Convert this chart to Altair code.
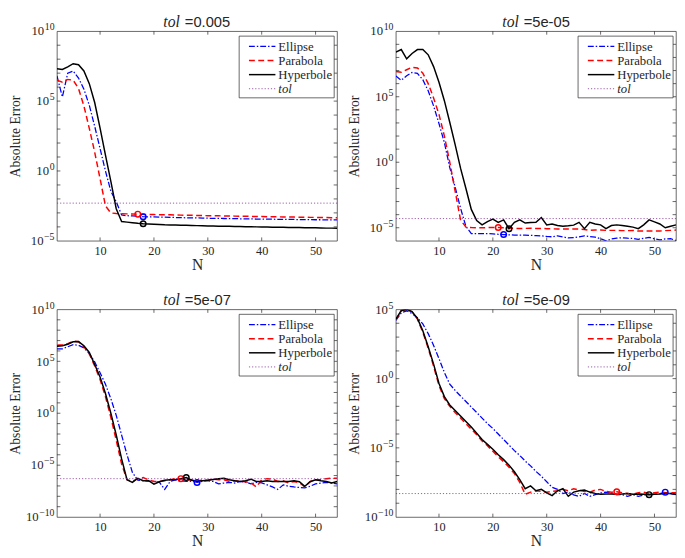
import altair as alt
import pandas as pd

# ---------------- data (log10 of absolute error) -------------
N = list(range(2, 55))
SERIES = ["Ellipse", "Parabola", "Hyperbole", "tol"]
COLORS = ["#0000ff", "#ff0000", "#000000", "#7e2f8e"]

TOLS = [0.005, 5e-05, 5e-07, 5e-09]
TOL_TEXT = ["=0.005", "=5e-05", "=5e-07", "=5e-09"]
Y_RANGE = [(-5, 10), (-6, 10), (-10, 10), (-10, 5)]
Y_LABELS = [[10, 5, 0, -5], [10, 5, 0, -5], [10, 5, 0, -5, -10], [5, 0, -5, -10]]
X_TICKS = [10, 20, 30, 40, 50]

P1_E = [6.8, 5.3, 7.0, 7.15, 6.65, 5.85, 4.7, 3.2, 1.6, 0.0,
        -1.45, -2.2, -3.15, -3.2, -3.22, -3.24, -3.27, -3.28, -3.29, -3.3,
        -3.31, -3.32, -3.33, -3.34, -3.35, -3.35, -3.36, -3.37, -3.38, -3.39,
        -3.39, -3.4, -3.41, -3.41, -3.42, -3.43, -3.43, -3.44, -3.44, -3.45,
        -3.45, -3.46, -3.46, -3.47, -3.47, -3.48, -3.48, -3.48, -3.49, -3.49,
        -3.5, -3.5, -3.5]
P1_P = [6.5, 6.35, 6.55, 6.5, 5.9, 4.65, 3.05, 1.35, -0.55, -2.5,
        -3.0, -3.05, -3.06, -3.07, -3.08, -3.09, -3.1, -3.11, -3.12, -3.13,
        -3.14, -3.14, -3.15, -3.16, -3.17, -3.17, -3.18, -3.19, -3.2, -3.2,
        -3.21, -3.22, -3.22, -3.23, -3.24, -3.24, -3.25, -3.26, -3.26, -3.27,
        -3.28, -3.28, -3.29, -3.3, -3.3, -3.31, -3.31, -3.32, -3.32, -3.33,
        -3.33, -3.34, -3.34]
P1_H = [7.32, 7.27, 7.45, 7.68, 7.6, 7.16, 6.25, 4.9, 3.07, 1.14,
        -0.75, -2.7, -3.62, -3.66, -3.7, -3.74, -3.77, -3.79, -3.81, -3.83,
        -3.85, -3.86, -3.87, -3.88, -3.89, -3.9, -3.91, -3.92, -3.93, -3.94,
        -3.95, -3.96, -3.96, -3.97, -3.98, -3.99, -3.99, -4.0, -4.01, -4.01,
        -4.02, -4.03, -4.03, -4.04, -4.05, -4.05, -4.06, -4.07, -4.07, -4.08,
        -4.09, -4.09, -4.1]

P2_E = [6.58, 6.26, 6.6, 6.85, 6.78, 6.3, 5.45, 4.3, 2.95, 1.5,
        -0.4, -1.9, -3.5, -4.9, -5.44, -5.44, -5.45, -5.45, -5.47, -5.5,
        -5.52, -5.54, -5.56, -5.57, -5.56, -5.58, -5.6, -5.62, -5.66, -5.69,
        -5.62, -5.7, -5.78, -5.76, -5.7, -5.62, -5.68, -5.72, -5.84, -6.0,
        -5.86, -5.8, -5.76, -5.8, -5.82, -5.88, -5.8, -5.74, -5.85, -5.93,
        -5.85, -5.83, -5.98]
P2_P = [6.92, 6.87, 7.06, 7.25, 7.2, 6.8, 6.0, 4.9, 3.65, 2.0,
        0.0, -2.2, -4.4, -4.95, -4.98, -5.0, -5.0, -4.99, -4.98, -4.98,
        -5.0, -5.02, -5.05, -5.05, -5.05, -5.04, -5.06, -5.05, -5.07, -5.08,
        -5.1, -5.1, -5.1, -5.1, -5.1, -5.13, -5.2, -5.18, -5.18, -5.2,
        -5.2, -5.2, -5.22, -5.22, -5.2, -5.25, -5.25, -5.25, -5.25, -5.25,
        -5.22, -5.2, -5.18]
P2_H = [8.4, 8.6, 7.9, 8.3, 8.6, 8.6, 8.2, 7.3, 6.1, 4.7,
        3.05, 1.35, -0.45, -2.0, -3.6, -4.45, -4.78, -4.53, -4.34, -4.59,
        -4.4, -5.07, -4.59, -4.4, -4.64, -4.6, -4.59, -4.22, -4.78, -4.71,
        -4.83, -4.88, -4.85, -4.8, -4.59, -5.07, -4.59, -4.71, -4.78, -5.07,
        -4.83, -4.78, -4.83, -4.88, -4.95, -5.07, -4.78, -4.4, -4.55, -4.71,
        -5.0, -4.88, -4.78]

P3_E = [6.2, 6.2, 6.4, 6.6, 6.55, 6.3, 5.75, 4.95, 3.9, 2.8,
        1.4, -0.2, -2.1, -4.0, -5.7, -6.45, -6.5, -6.54, -6.57, -6.63,
        -7.34, -6.57, -6.41, -6.5, -6.57, -6.54, -6.66, -6.57, -6.5, -6.57,
        -6.8, -6.72, -6.66, -6.72, -6.57, -6.63, -6.8, -6.66, -6.7, -6.9,
        -7.1, -7.34, -6.9, -7.03, -7.1, -7.15, -7.19, -7.03, -6.8, -6.72,
        -6.66, -6.72, -6.8]
P3_P = [6.55, 6.6, 6.7, 6.95, 6.88, 6.4, 5.7, 4.55, 3.25, 1.6,
        -0.4, -2.6, -4.9, -6.4, -6.57, -6.3, -6.2, -6.41, -6.57, -6.57,
        -6.5, -6.41, -6.3, -6.3, -6.45, -6.41, -6.57, -6.41, -6.45, -6.35,
        -6.41, -6.41, -6.57, -6.5, -6.57, -6.6, -6.7, -7.1, -6.41, -6.3,
        -6.35, -6.57, -6.5, -6.72, -6.57, -6.7, -7.1, -6.57, -6.41, -6.41,
        -6.3, -6.26, -6.26]
P3_H = [6.45, 6.5, 6.65, 6.88, 6.9, 6.5, 5.85, 4.7, 3.5, 1.9,
        0.0, -2.1, -4.4, -6.41, -6.66, -6.26, -6.5, -6.5, -6.82, -6.6,
        -6.45, -6.4, -6.38, -6.3, -6.2, -6.45, -6.55, -6.5, -6.45, -6.38,
        -6.3, -6.26, -6.41, -6.5, -6.57, -6.5, -6.35, -6.57, -6.57, -6.5,
        -6.57, -6.57, -6.57, -6.57, -6.5, -6.6, -7.03, -6.6, -6.41, -6.5,
        -6.57, -6.72, -6.57]

P4_E = [4.2, 4.75, 4.9, 4.7, 4.4, 3.95, 3.25, 2.4, 1.45, 0.45,
        -0.4, -0.85, -1.25, -1.65, -2.05, -2.45, -2.85, -3.25, -3.6, -4.0,
        -4.4, -4.8, -5.2, -5.55, -5.95, -6.3, -6.7, -7.05, -7.45, -7.85,
        -8.0, -8.3, -8.2, -8.4, -8.5, -8.3, -8.5, -8.38, -8.26, -8.2,
        -8.25, -8.38, -8.38, -8.5, -8.38, -8.5, -8.4, -8.38, -8.35, -8.3,
        -8.2, -8.3, -8.38]
P4_P = [4.25, 4.9, 5.0, 4.82, 4.3, 3.35, 2.2, 0.9, -0.5, -1.45,
        -2.0, -2.45, -2.85, -3.25, -3.65, -4.05, -4.5, -4.85, -5.25, -5.65,
        -6.0, -6.4, -6.85, -7.5, -8.35, -8.2, -8.1, -8.15, -8.2, -8.15,
        -8.1, -8.0, -8.1, -7.95, -8.05, -8.15, -8.2, -8.05, -8.0, -8.15,
        -8.2, -8.17, -8.25, -8.3, -8.35, -8.25, -8.2, -8.3, -8.25, -8.2,
        -8.25, -8.25, -8.25]
P4_H = [4.3, 4.92, 5.0, 4.85, 4.35, 3.45, 2.3, 1.05, -0.35, -1.3,
        -1.9, -2.3, -2.7, -3.1, -3.5, -3.95, -4.4, -4.75, -5.1, -5.5,
        -5.85, -6.25, -6.73, -7.3, -7.95, -7.75, -8.1, -8.0, -8.26, -8.45,
        -8.1, -7.95, -8.5, -8.2, -8.1, -8.05, -8.2, -8.3, -8.35, -8.33,
        -8.33, -8.35, -8.33, -8.3, -8.35, -8.33, -8.35, -8.38, -8.35, -8.33,
        -8.3, -8.3, -8.35]

# N at which each method's circle marker sits (Ellipse, Parabola, Hyperbole)
MARK_N = [(18, 17, 18), (22, 21, 23), (28, 25, 26), (52, 43, 49)]

CURVES = [(P1_E, P1_P, P1_H), (P2_E, P2_P, P2_H), (P3_E, P3_P, P3_H), (P4_E, P4_P, P4_H)]

# ---------------- styling -------------
W = 286
HEIGHTS = [214, 214, 212, 212]
SERIF = "Liberation Serif"
SANS = "Liberation Sans"
INK = "#262626"
DASHES = [[6, 2, 1.5, 2], [6, 3.5], None, [1.2, 2]]
WIDTHS = [1.3, 1.5, 1.5, 0.8]


def one():
    return alt.Data(values=[{"a": 1}])


def kw_line(i):
    d = dict(color=COLORS[i], strokeWidth=WIDTHS[i])
    if DASHES[i] is not None:
        d["strokeDash"] = DASHES[i]
    return d


def exp_text(k):
    return str(k).replace("-", "\u2212")


def exp_width(k):
    s = exp_text(k)
    return sum(5.6 if ch == "\u2212" else 5.0 for ch in s)


def panel(idx):
    Hh = HEIGHTS[idx]
    lo, hi = Y_RANGE[idx]
    xs = alt.Scale(domain=[2, 54], nice=False, zero=False)
    ys = alt.Scale(type="log", domain=[10.0 ** lo, 10.0 ** hi], nice=False)
    xaxis = alt.Axis(values=X_TICKS, ticks=False, domain=False, grid=False,
                     labelFont=SERIF, labelFontSize=12.5, labelPadding=4,
                     labelColor=INK, title="N", titleFont=SERIF, titleFontSize=16,
                     titleFontWeight="normal", titlePadding=0, titleColor=INK)
    yaxis = alt.Axis(labels=False, ticks=False, domain=False, grid=False,
                     title="Absolute Error", titleFont=SERIF, titleFontSize=14,
                     titleFontWeight="normal", titlePadding=35, titleColor=INK)

    def X(field="N"):
        return alt.X(f"{field}:Q", scale=xs, axis=xaxis)

    def Y(field="v"):
        return alt.Y(f"{field}:Q", scale=ys, axis=yaxis)

    layers = []
    # curves
    for i, arr in enumerate(CURVES[idx]):
        df = pd.DataFrame({"N": N, "v": [10.0 ** e for e in arr]})
        layers.append(alt.Chart(df).mark_line(clip=True, **kw_line(i)).encode(x=X(), y=Y()))
    # tolerance line
    tdf = pd.DataFrame({"N": [2, 54], "v": [TOLS[idx], TOLS[idx]]})
    layers.append(alt.Chart(tdf).mark_line(clip=True, **kw_line(3)).encode(x=X(), y=Y()))
    # circle markers
    for i, arr in enumerate(CURVES[idx]):
        n = MARK_N[idx][i]
        mdf = pd.DataFrame({"N": [n], "v": [10.0 ** arr[N.index(n)]]})
        layers.append(alt.Chart(mdf).mark_point(shape="circle", filled=False, size=32,
                                                 strokeWidth=1.5, color=COLORS[i], opacity=1).encode(
            x=X(), y=Y()))

    # inward ticks
    dec = pd.DataFrame({"v": [10.0 ** k for k in range(lo + 1, hi)]})
    for x1, x2 in ((0, 3.5), (W - 3.5, W)):
        layers.append(alt.Chart(dec).mark_rule(color=INK, strokeWidth=0.7).encode(
            y=Y(), x=alt.value(x1), x2=alt.value(x2)))
    xt = pd.DataFrame({"N": X_TICKS})
    for y1, y2 in ((Hh, Hh - 3.5), (0, 3.5)):
        layers.append(alt.Chart(xt).mark_rule(color=INK, strokeWidth=0.7).encode(
            x=X(), y=alt.value(y1), y2=alt.value(y2)))

    # y tick labels 10^k
    for k in Y_LABELS[idx]:
        d = pd.DataFrame({"v": [10.0 ** k]})
        ew = exp_width(k)
        layers.append(alt.Chart(d).mark_text(align="right", baseline="alphabetic", dy=4.3,
                                             font=SERIF, fontSize=13, color=INK).encode(
            y=Y(), x=alt.value(-2.5 - ew - 0.6), text=alt.value("10")))
        layers.append(alt.Chart(d).mark_text(align="right", baseline="alphabetic", dy=-0.8,
                                             font=SERIF, fontSize=10, color=INK).encode(
            y=Y(), x=alt.value(-2.5), text=alt.value(exp_text(k))))

    # title: italic "tol" + value
    layers.append(alt.Chart(one()).mark_text(align="right", baseline="alphabetic",
                                             font=SERIF, fontStyle="italic", fontSize=16,
                                             color=INK).encode(
        x=alt.value(W / 2 - 17.5), y=alt.value(-4), text=alt.value("tol")))
    layers.append(alt.Chart(one()).mark_text(align="left", baseline="alphabetic",
                                             font=SANS, fontSize=15, color=INK).encode(
        x=alt.value(W / 2 - 12.5), y=alt.value(-4), text=alt.value(TOL_TEXT[idx])))

    # legend box
    bx1, bx2, by1, by2 = W - 100, W - 3, 5, 68
    layers.append(alt.Chart(one()).mark_rect(fill="white", stroke=INK, strokeWidth=0.7).encode(
        x=alt.value(bx1), x2=alt.value(bx2), y=alt.value(by1), y2=alt.value(by2)))
    for i, name in enumerate(SERIES):
        yy = 15.5 + 14.4 * i
        layers.append(alt.Chart(one()).mark_rule(**kw_line(i)).encode(
            x=alt.value(bx1 + 10), x2=alt.value(bx1 + 37), y=alt.value(yy)))
        tkw = dict(font=SERIF, fontSize=13, color=INK, align="left", baseline="middle")
        if name == "tol":
            tkw["fontStyle"] = "italic"
        layers.append(alt.Chart(one()).mark_text(**tkw).encode(
            x=alt.value(bx1 + 40), y=alt.value(yy + 0.5), text=alt.value(name)))

    return alt.layer(*layers).properties(width=W, height=Hh)


panels = [panel(i) for i in range(4)]
chart = alt.concat(*panels, columns=2, spacing={"row": 70, "column": 60},
                   bounds="flush").properties(padding=0).configure_view(
    stroke=INK, strokeWidth=0.7)

chart.save("out.html", embed_options={"renderer": "svg", "actions": False})
